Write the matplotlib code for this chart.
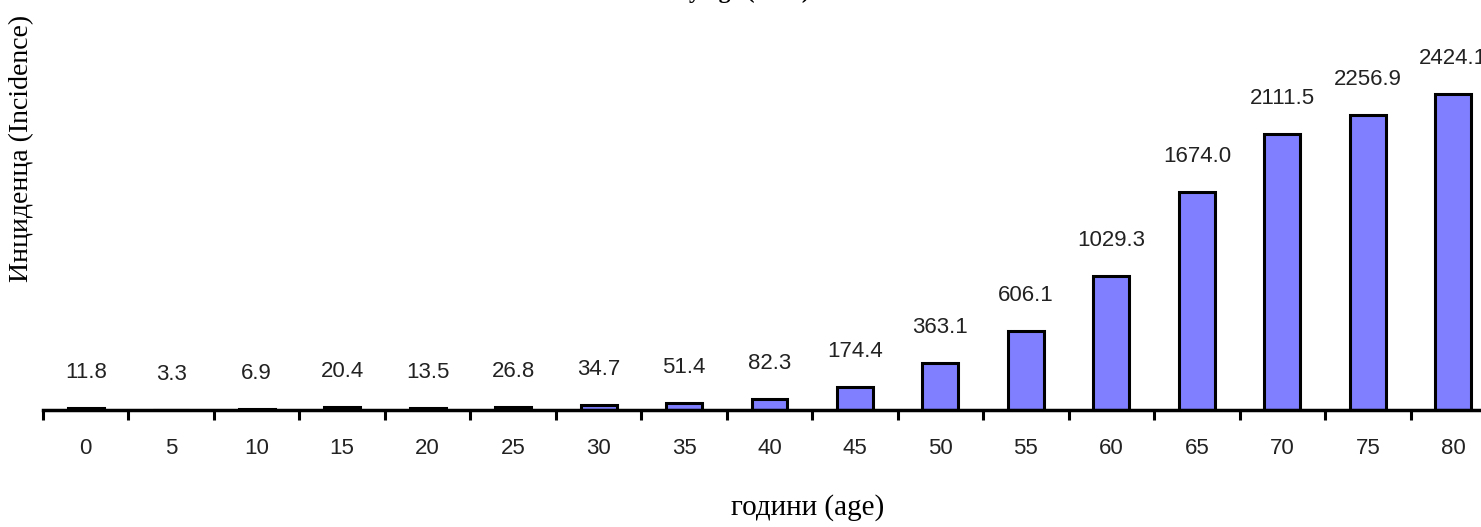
import matplotlib
matplotlib.use("Agg")
import matplotlib.pyplot as plt
import numpy as np

ages = ["0", "5", "10", "15", "20", "25", "30", "35", "40", "45", "50", "55",
        "60", "65", "70", "75", "80"]
incidence = [11.8, 3.3, 6.9, 20.4, 13.5, 26.8, 34.7, 51.4, 82.3, 174.4, 363.1,
             606.1, 1029.3, 1674.0, 2111.5, 2256.9, 2424.1]
value_labels = ["11.8", "3.3", "6.9", "20.4", "13.5", "26.8", "34.7", "51.4",
                "82.3", "174.4", "363.1", "606.1", "1029.3", "1674.0", "2111.5",
                "2256.9", "2424.1"]
title_text = "Incidence by age (2004)"
xlabel = "години (age)"
ylabel = "Инциденца (Incidence)"

sans = "Liberation Sans"
serif = "Liberation Serif"

W, H = 1481, 527
fig = plt.figure(figsize=(W / 100, H / 100), dpi=100)
left_px, right_px, base_px = 43, 1496, 410
ax = fig.add_axes([left_px / W, (H - base_px) / H, (right_px - left_px) / W, base_px / H])
n = len(ages)
x = np.arange(n)
px_per_unit = 0.1305
ax.set_xlim(-0.5, n - 0.5)
ax.set_ylim(0, base_px / px_per_unit)

ax.bar(x, incidence, width=0.42, color="#7F7FFF", edgecolor="black", linewidth=2.2, zorder=2)

for xi, v, lab in zip(x, incidence, value_labels):
    ax.annotate(lab, (xi, v), xytext=(0, 18), textcoords="offset points",
                ha="center", va="bottom", fontsize=16, family=sans, color="#222222")

for s in ["top", "right", "left"]:
    ax.spines[s].set_visible(False)
ax.spines["bottom"].set_linewidth(2.5)
ax.set_yticks([])
ax.set_xticks(x)
ax.set_xticklabels(ages, fontsize=16, family=sans, color="#222222")
ax.tick_params(axis="x", which="major", length=0, pad=20)
ax.set_xticks(np.arange(n + 1) - 0.5, minor=True)
ax.tick_params(axis="x", which="minor", length=7, width=2.2, direction="out")

fig.text(808 / W, 1 - 508 / H, xlabel, ha="center", va="center", fontsize=21, family=serif)
fig.text(22 / W, 1 - 148 / H, ylabel, ha="center", va="center", rotation=90, fontsize=20,
         family=serif)
fig.text(810 / W, 1 + 2 / H, title_text, ha="right", va="baseline", fontsize=17,
         family=serif, fontweight="bold")

fig.savefig("out.png", dpi=100)
